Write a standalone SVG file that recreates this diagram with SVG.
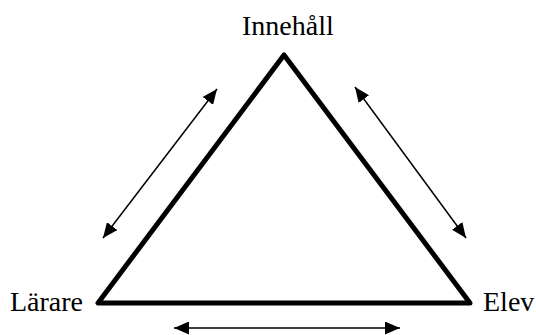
<svg xmlns="http://www.w3.org/2000/svg" width="536" height="335" viewBox="0 0 536 335">
<style>
.lbl{font-family:"Liberation Serif","Times New Roman",serif;font-size:28px;fill:#000}
.arr{stroke:#000;stroke-width:1.5;fill:none;marker-start:url(#ah);marker-end:url(#ah)}
</style>
<defs>
<marker id="ah" viewBox="0 0 10 10" refX="10" refY="5" markerWidth="15" markerHeight="13" markerUnits="userSpaceOnUse" orient="auto-start-reverse" preserveAspectRatio="none">
<path d="M0,0 L10,5 L0,10 Z" fill="#000"/>
</marker>
</defs>
<rect width="536" height="335" fill="#fff"/>
<g id="triangle">
<polygon points="284,55 98,303 470,303" fill="none" stroke="#000" stroke-width="5" stroke-linejoin="round"/>
</g>
<g id="innehall"><text class="lbl" x="242" y="35">Innehåll</text></g>
<g id="larare"><text class="lbl" x="10" y="311">Lärare</text></g>
<g id="elev"><text class="lbl" x="483" y="311">Elev</text></g>
<g id="connectors">
<line class="arr" x1="103" y1="238" x2="217" y2="89"/>
<line class="arr" x1="355" y1="87" x2="466" y2="238"/>
<line class="arr" x1="174" y1="328" x2="400" y2="328"/>
</g>
</svg>
